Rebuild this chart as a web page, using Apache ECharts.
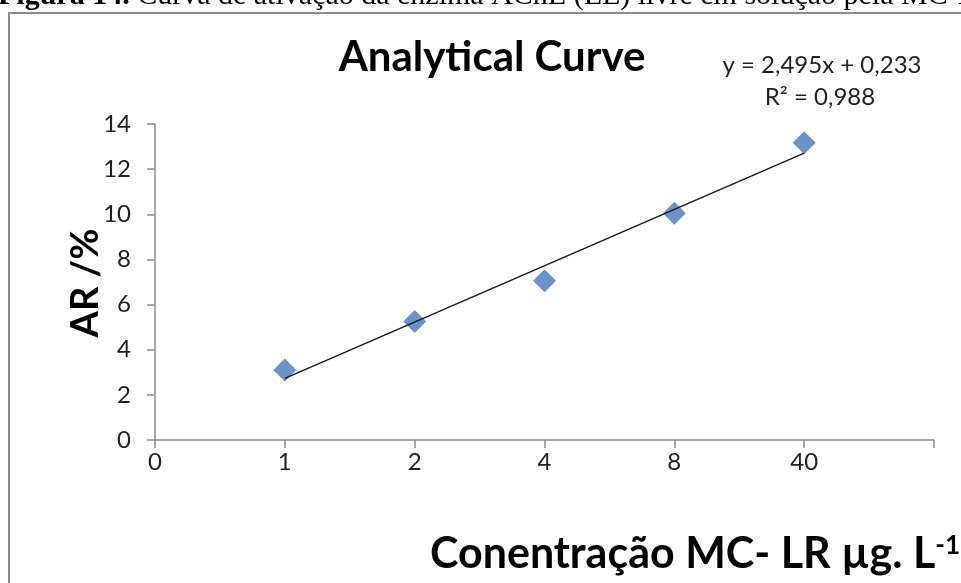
<!DOCTYPE html>
<html>
<head>
<meta charset="utf-8">
<script src="https://cdn.jsdelivr.net/npm/echarts@6/dist/echarts.min.js"></script>
<style>
html,body{margin:0;padding:0;background:#fff;}
#chart{width:961px;height:583px;}
</style>
</head>
<body>
<div id="chart"></div>
<script>
// Category positions on the x axis (index) and their tick labels
var xTickLabels = ['0', '1', '2', '4', '8', '40', ''];
var pointIndex = [1, 2, 3, 4, 5];
var arValues = [3.1, 5.25, 7.05, 10.05, 13.17];
var trendSlope = 2.495;
var trendIntercept = 0.233;
var trendX = [1, 5];
var yTicks = [0, 2, 4, 6, 8, 10, 12, 14];

var chart = echarts.init(document.getElementById('chart'), null, {renderer: 'canvas'});

var scatterData = pointIndex.map(function (x, i) { return [x, arValues[i]]; });
var trendData = trendX.map(function (x) { return [x, trendSlope * x + trendIntercept]; });

var labelFont = 'Lato, "Open Sans", sans-serif';

chart.setOption({
  animation: false,
  backgroundColor: '#ffffff',
  grid: {left: 155, right: 27, top: 124, bottom: 143},
  xAxis: {
    type: 'value', min: 0, max: 6, interval: 1,
    axisLine: {show: true, onZero: false, lineStyle: {color: '#8a8a8a', width: 1.5}},
    axisTick: {show: true, inside: false, length: 8, lineStyle: {color: '#8a8a8a', width: 1.5}},
    splitLine: {show: false},
    axisLabel: {
      margin: 10, color: '#222', fontSize: 24, fontFamily: labelFont,
      formatter: function (v) { return xTickLabels[Math.round(v)] || ''; }
    }
  },
  yAxis: {
    type: 'value', min: 0, max: 14, interval: 2,
    axisLine: {show: true, lineStyle: {color: '#8a8a8a', width: 1.5}},
    axisTick: {show: true, length: 8, lineStyle: {color: '#8a8a8a', width: 1.5}},
    splitLine: {show: false},
    axisLabel: {margin: 24, color: '#222', fontSize: 24, fontFamily: labelFont}
  },
  series: [
    {
      type: 'line', data: trendData, showSymbol: false, symbol: 'none',
      lineStyle: {color: '#1a1a1a', width: 1.5}, z: 3, silent: true
    },
    {
      type: 'scatter', data: scatterData, symbol: 'diamond', symbolSize: 23,
      itemStyle: {color: '#4677bb'}, z: 2
    }
  ],
  graphic: [
    {type: 'rect', shape: {x: 9, y: 13, width: 1000, height: 620},
     style: {fill: 'none', stroke: '#8c8c8c', lineWidth: 2}, z: -1},
    {type: 'text', left: -2, top: -19,
     style: {text: '{b|Figura 14.} Curva de ativação da enzima AChE (EE) livre em solução pela MC-LR',
       fontFamily: '"Liberation Serif", serif', fontSize: 30, fill: '#000',
       rich: {b: {fontWeight: 'bold', fontFamily: '"Liberation Serif", serif', fontSize: 30}}}},
    {type: 'text', x: 492, y: 57,
     style: {text: 'Analytical Curve', fontFamily: labelFont, fontWeight: 'bold', fontSize: 42,
       fill: '#000', align: 'center', verticalAlign: 'middle'}},
    {type: 'text', x: 822, y: 65,
     style: {text: 'y = 2,495x + 0,233', fontFamily: labelFont, fontSize: 24,
       fill: '#222', align: 'center', verticalAlign: 'middle'}},
    {type: 'text', x: 820, y: 97,
     style: {text: 'R² = 0,988', fontFamily: labelFont, fontSize: 24,
       fill: '#222', align: 'center', verticalAlign: 'middle'}},
    {type: 'text', x: 86, y: 283, rotation: Math.PI / 2,
     style: {text: 'AR /%', fontFamily: labelFont, fontWeight: 'bold', fontSize: 38,
       fill: '#000', align: 'center', verticalAlign: 'middle'}},
    {type: 'text', x: 430, y: 554,
     style: {text: 'Conentração MC- LR µg. L{s|-1}', fontFamily: labelFont, fontWeight: 'bold', fontSize: 43,
       fill: '#000', align: 'left', verticalAlign: 'middle',
       rich: {s: {fontFamily: labelFont, fontWeight: 'bold', fontSize: 26, verticalAlign: 'top', padding: [0, 0, 16, 0]}}}}
  ]
});
</script>
</body>
</html>
